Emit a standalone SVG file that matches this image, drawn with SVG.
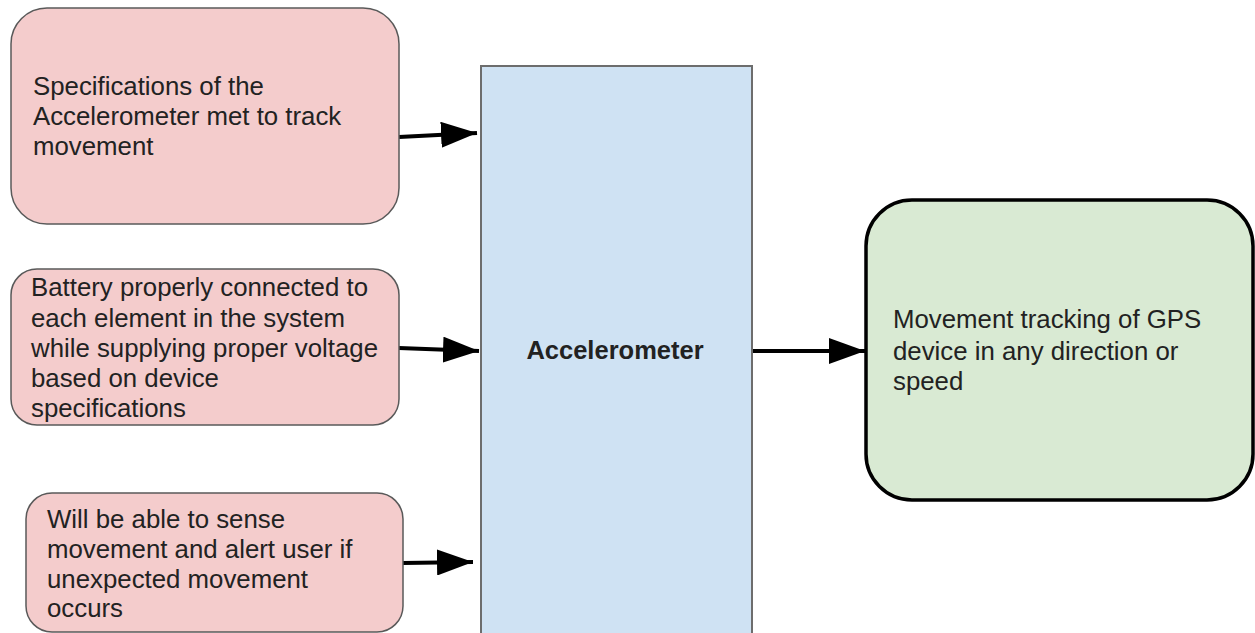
<svg xmlns="http://www.w3.org/2000/svg" width="1255" height="633" viewBox="0 0 1255 633">
  <defs>
    <marker id="arrow" viewBox="0 0 10 10" refX="10" refY="5" markerWidth="9" markerHeight="6.5" markerUnits="strokeWidth" orient="auto" preserveAspectRatio="none">
      <path d="M0,0 L10,5 L0,10 z" fill="#000"/>
    </marker>
  </defs>
  <style>
    .req { fill: #f4cccc; stroke: #595959; stroke-width: 1.5; }
    .core { fill: #cfe2f3; stroke: #6d6d6d; stroke-width: 2; }
    .out { fill: #d9ead3; stroke: #000; stroke-width: 3.5; }
    .label { font-family: "Liberation Sans", Arial, sans-serif; font-size: 25.8px; fill: #222; }
    .bold { font-weight: bold; font-size: 25.5px; }
    .link { stroke: #000; stroke-width: 4; fill: none; marker-end: url(#arrow); }
  </style>
  <rect width="1255" height="633" fill="#fff"/>

  <g id="connectors">
    <line class="link" x1="399" y1="137" x2="477" y2="133"/>
    <line class="link" x1="399" y1="348" x2="479" y2="351"/>
    <line class="link" x1="403" y1="563" x2="473" y2="562"/>
    <line class="link" x1="752" y1="351" x2="865" y2="351"/>
  </g>

  <g id="spec-node">
    <rect class="req" x="11" y="8" width="388" height="216" rx="36" ry="36"/>
    <text class="label" x="33" y="95">Specifications of the</text>
    <text class="label" x="33" y="125">Accelerometer met to track</text>
    <text class="label" x="33" y="155">movement</text>
  </g>

  <g id="battery-node">
    <rect class="req" x="11" y="269" width="388" height="156" rx="26" ry="26"/>
    <text class="label" x="31" y="296">Battery properly connected to</text>
    <text class="label" x="31" y="327">each element in the system</text>
    <text class="label" x="31" y="357">while supplying proper voltage</text>
    <text class="label" x="31" y="387">based on device</text>
    <text class="label" x="31" y="417">specifications</text>
  </g>

  <g id="sense-node">
    <rect class="req" x="26" y="493" width="377" height="139" rx="26" ry="26"/>
    <text class="label" x="47" y="528">Will be able to sense</text>
    <text class="label" x="47" y="558">movement and alert user if</text>
    <text class="label" x="47" y="588">unexpected movement</text>
    <text class="label" x="47" y="617">occurs</text>
  </g>

  <g id="accelerometer-node">
    <rect class="core" x="481" y="66" width="271" height="580"/>
    <text class="label bold" x="615" y="359" text-anchor="middle">Accelerometer</text>
  </g>

  <g id="tracking-node">
    <rect class="out" x="866" y="200" width="387" height="300" rx="46" ry="46"/>
    <text class="label" x="893" y="328">Movement tracking of GPS</text>
    <text class="label" x="893" y="360">device in any direction or</text>
    <text class="label" x="893" y="390">speed</text>
  </g>
</svg>
